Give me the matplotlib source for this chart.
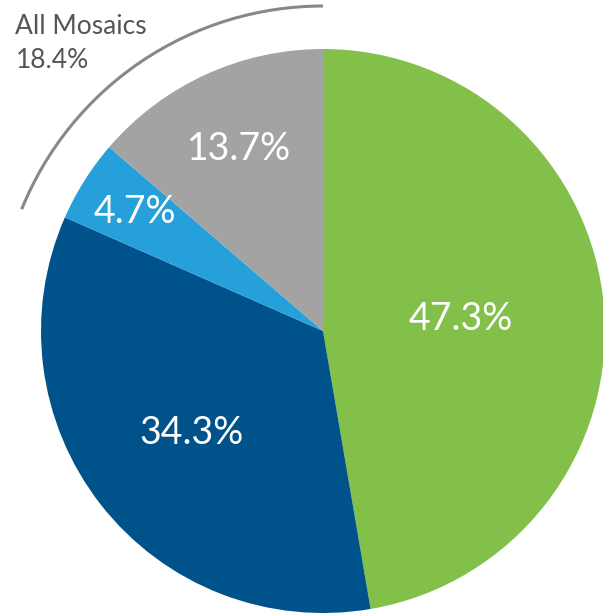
import matplotlib.pyplot as plt
from matplotlib.patches import Arc
import numpy as np

# slice data, clockwise from 12 o'clock
labels = ['Green', 'Dark blue', 'Light blue', 'Gray']
values = [47.3, 34.3, 4.7, 13.7]
colors = ['#82c04a', '#00528a', '#25a0db', '#a3a3a3']
label_dist = [0.49, 0.59, 0.79, 0.71]

group_name = 'All Mosaics'
group_value = 18.4

plt.rcParams['font.family'] = ['Lato', 'DejaVu Sans']

fig = plt.figure(figsize=(6.03, 6.14), dpi=100)
ax = fig.add_axes([0, 0, 1, 1])

cx, cy, r = 323, 614 - 331, 282
wedges, _ = ax.pie(values, colors=colors, startangle=90, counterclock=False,
                   center=(cx, cy), radius=r, frame=True,
                   wedgeprops=dict(linewidth=0))

# percentage labels inside each slice
for w, v, d in zip(wedges, values, label_dist):
    mid = np.deg2rad((w.theta1 + w.theta2) / 2)
    ax.text(cx + d * r * np.cos(mid), cy + d * r * np.sin(mid), f'{v}%',
            color='white', fontsize=27, fontweight='normal',
            ha='center', va='center', zorder=5)

# bracket arc around the light blue + gray slices
arc = Arc((cx, cy), 2 * 325, 2 * 325, theta1=90, theta2=158,
          color='#888888', lw=2.2)
ax.add_patch(arc)

ax.text(15, 614 - 34, group_name, fontsize=19, color='#555555',
        ha='left', va='baseline')
ax.text(16, 614 - 68, f'{group_value}%', fontsize=19, color='#555555',
        ha='left', va='baseline')

ax.set_xlim(0, 603)
ax.set_ylim(0, 614)
ax.set_aspect('auto')
ax.axis('off')

fig.savefig('out.png', dpi=100)
